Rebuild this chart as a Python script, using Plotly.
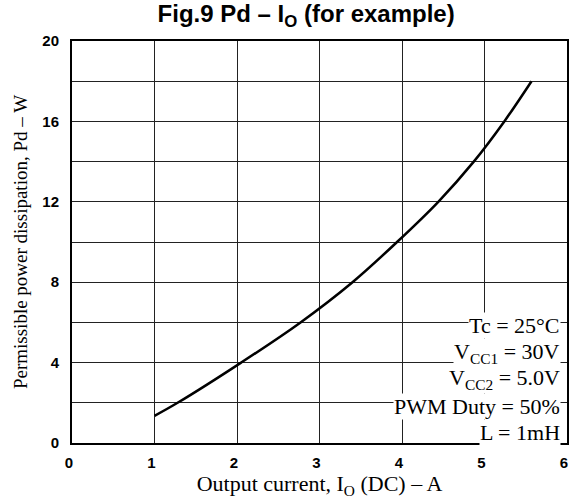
import plotly.graph_objects as go

# Data
current_a = [1.0, 1.28, 2.05, 2.77, 3.4, 3.94, 4.44, 4.87, 5.24, 5.57]
pd_w = [1.35, 2.0, 4.0, 6.0, 8.0, 10.0, 12.0, 14.0, 16.0, 18.0]

x_ticks = [0, 1, 2, 3, 4, 5, 6]
x_labels = ["0", "1", "2", "3", "4", "5", "6"]
y_ticks = [0, 4, 8, 12, 16, 20]

cond_lines = ["Tc = 25°C", "V<sub>CC1</sub> = 30V", "V<sub>CC2</sub> = 5.0V",
              "PWM Duty = 50%", "L = 1mH"]
cond_y = [5.87, 4.48, 3.18, 1.84, 0.50]

serif = "Liberation Serif, Times New Roman, serif"
sans = "Liberation Sans, Arial, sans-serif"

fig = go.Figure()
fig.add_trace(go.Scatter(x=current_a, y=pd_w, mode="lines",
                         line=dict(color="black", width=2.5, shape="spline", smoothing=1.0),
                         showlegend=False, hoverinfo="skip"))

for txt, yy in zip(cond_lines, cond_y):
    fig.add_annotation(x=6, y=yy, xref="x", yref="y", text=txt, showarrow=False,
                       xanchor="right", yanchor="middle", xshift=-6,
                       bgcolor="white", borderpad=0,
                       font=dict(family=serif, size=22, color="black"))

fig.update_layout(
    width=569, height=501,
    margin=dict(l=72, r=2, t=41, b=58),
    paper_bgcolor="white", plot_bgcolor="white",
    title=dict(text="<b>Fig.9 Pd – I<sub>O</sub> (for example)</b>", x=0.538, xanchor="center",
               y=0.99, yanchor="top", pad=dict(t=0, b=0),
               font=dict(family=sans, size=24, color="black")),
)
fig.update_xaxes(range=[0, 6], tickvals=x_ticks, ticktext=x_labels,
                 showgrid=True, gridcolor="#222", gridwidth=1,
                 showline=True, linecolor="black", linewidth=2, mirror=True,
                 ticks="", zeroline=False, ticklabelstandoff=5, ticklabelshift=-3,
                 ticklabeloverflow="allow", automargin=False,
                 tickfont=dict(family=sans, size=15, color="black", weight="bold"),
                 title=dict(text="Output current, I<sub>O</sub> (DC) – A", standoff=4,
                            font=dict(family=serif, size=22, color="black")))
fig.update_yaxes(range=[0, 20], tickvals=y_ticks, ticktext=[str(v) for v in y_ticks],
                 showgrid=True, gridcolor="#222", gridwidth=1,
                 showline=True, linecolor="black", linewidth=2, mirror=True,
                 ticks="", zeroline=False, ticklabelstandoff=8, automargin=False,
                 minor=dict(dtick=2, showgrid=True, gridcolor="#222", gridwidth=1),
                 tickfont=dict(family=sans, size=15, color="black", weight="bold"),
                 title=dict(text="Permissible power dissipation, Pd – W", standoff=10,
                            font=dict(family=serif, size=19, color="black")))

# remove the browser's default page margin so the 569x501 figure fills the window
fig.write_html("out.html", config={"displayModeBar": False},
               post_script="document.body.style.margin='0';")
